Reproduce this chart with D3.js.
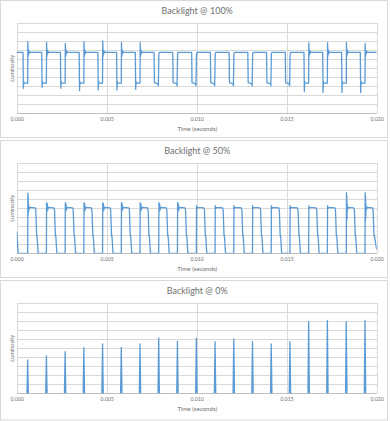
<!DOCTYPE html>
<html>
<head>
<meta charset="utf-8">
<script src="https://cdn.jsdelivr.net/npm/d3@7"></script>
<style>
  html, body { margin: 0; padding: 0; background: #fff; }
  svg { display: block; }
  text { font-family: Lato, "Open Sans", sans-serif; fill: #6f6f6f; }
</style>
</head>
<body>
<svg id="chart" width="390" height="421"></svg>
<script>
// ---------- DATA ----------
const panelTitles = ["Backlight @ 100%", "Backlight @ 50%", "Backlight @ 0%"];
const xTickValues = [0, 0.005, 0.010, 0.015, 0.020];
const xAxisTitle = "Time (seconds)";
const yAxisTitle = "Luminosity";
const yGridValues = [0, 1, 2, 3, 4, 5, 6, 7, 8, 9, 10];

// Backlight @ 100% : [time (s), luminosity]
const series100 = [
  [0, 6.78],
  [0.00035, 6.78], [0.00037, 2.78], [0.00039, 3.55], [0.00041, 3.35], [0.00061, 3.35], [0.00062, 7.96], [0.00064, 6.35], [0.00066, 7.05], [0.00068, 6.6], [0.00071, 6.85], [0.00075, 6.78],
  [0.00139, 6.78], [0.00141, 2.89], [0.00143, 3.55], [0.00145, 3.35], [0.00165, 3.35], [0.00166, 7.89], [0.00168, 6.35], [0.00170, 7.05], [0.00172, 6.6], [0.00175, 6.85], [0.00179, 6.78],
  [0.00243, 6.78], [0.00245, 2.78], [0.00247, 3.55], [0.00249, 3.35], [0.00269, 3.35], [0.00270, 7.78], [0.00272, 6.35], [0.00274, 7.05], [0.00276, 6.6], [0.00279, 6.85], [0.00283, 6.78],
  [0.00347, 6.78], [0.00349, 2.52], [0.00351, 3.55], [0.00353, 3.35], [0.00373, 3.35], [0.00374, 7.96], [0.00376, 6.35], [0.00378, 7.05], [0.00380, 6.6], [0.00383, 6.85], [0.00387, 6.78],
  [0.00451, 6.78], [0.00453, 2.59], [0.00455, 3.55], [0.00457, 3.35], [0.00477, 3.35], [0.00478, 8.04], [0.00480, 6.35], [0.00482, 7.05], [0.00484, 6.6], [0.00487, 6.85], [0.00491, 6.78],
  [0.00555, 6.78], [0.00557, 2.59], [0.00559, 3.55], [0.00561, 3.35], [0.00581, 3.35], [0.00582, 7.89], [0.00584, 6.35], [0.00586, 7.05], [0.00588, 6.6], [0.00591, 6.85], [0.00595, 6.78],
  [0.00659, 6.78], [0.00661, 2.67], [0.00663, 3.55], [0.00665, 3.35], [0.00685, 3.35], [0.00686, 7.85], [0.00688, 6.35], [0.00690, 7.05], [0.00692, 6.6], [0.00695, 6.85], [0.00699, 6.78],
  [0.00763, 6.78], [0.00765, 3.4], [0.00784, 3.3], [0.00787, 3.05], [0.00790, 6.6], [0.00793, 6.78],
  [0.00867, 6.78], [0.00869, 3.4], [0.00888, 3.3], [0.00891, 3.05], [0.00894, 6.6], [0.00897, 6.78],
  [0.00972, 6.78], [0.00974, 3.4], [0.00993, 3.3], [0.00996, 3.05], [0.00999, 6.6], [0.01002, 6.78],
  [0.01076, 6.78], [0.01078, 3.4], [0.01097, 3.3], [0.01100, 3.05], [0.01103, 6.6], [0.01106, 6.78],
  [0.01180, 6.78], [0.01182, 3.4], [0.01201, 3.3], [0.01204, 3.05], [0.01207, 6.6], [0.01210, 6.78],
  [0.01284, 6.78], [0.01286, 3.4], [0.01305, 3.3], [0.01308, 3.05], [0.01311, 6.6], [0.01314, 6.78],
  [0.01388, 6.78], [0.01390, 3.4], [0.01409, 3.3], [0.01412, 3.05], [0.01415, 6.6], [0.01418, 6.78],
  [0.01492, 6.78], [0.01494, 3.4], [0.01513, 3.3], [0.01516, 3.05], [0.01519, 6.6], [0.01522, 6.78],
  [0.01596, 6.78], [0.01598, 2.41], [0.01600, 3.55], [0.01602, 3.35], [0.01622, 3.35], [0.01623, 7.85], [0.01625, 6.35], [0.01627, 7.05], [0.01629, 6.6], [0.01632, 6.85], [0.01636, 6.78],
  [0.01700, 6.78], [0.01702, 2.30], [0.01704, 3.55], [0.01706, 3.35], [0.01726, 3.35], [0.01727, 7.85], [0.01729, 6.35], [0.01731, 7.05], [0.01733, 6.6], [0.01736, 6.85], [0.01740, 6.78],
  [0.01805, 6.78], [0.01807, 2.30], [0.01809, 3.55], [0.01811, 3.35], [0.01831, 3.35], [0.01832, 7.85], [0.01834, 6.35], [0.01836, 7.05], [0.01838, 6.6], [0.01841, 6.85], [0.01845, 6.78],
  [0.01909, 6.78], [0.01911, 2.30], [0.01913, 3.55], [0.01915, 3.35], [0.01935, 3.35], [0.01936, 7.74], [0.01938, 6.35], [0.01940, 7.05], [0.01942, 6.6], [0.01945, 6.85], [0.01949, 6.78],
  [0.02, 6.78]
];

// Backlight @ 50%
const series50 = [
  [0, 2.4], [0.00002, 2.0], [0.00008, 0],
  [0.00061, 0], [0.00062, 6.7], [0.00063, 4.2], [0.00064, 6.3], [0.00065, 4.5], [0.00066, 5.5], [0.00068, 4.8], [0.00071, 5.1], [0.00103, 5.05], [0.00106, 4.8], [0.00111, 1.9], [0.00113, 2.0], [0.00119, 0],
  [0.00165, 0], [0.00166, 5.63], [0.00167, 4.6], [0.00168, 5.23], [0.00169, 4.9], [0.00170, 5.5], [0.00172, 4.8], [0.00175, 5.1], [0.00207, 5.05], [0.00210, 4.8], [0.00215, 1.9], [0.00217, 2.0], [0.00223, 0],
  [0.00269, 0], [0.00270, 5.63], [0.00271, 4.6], [0.00272, 5.23], [0.00273, 4.9], [0.00274, 5.5], [0.00276, 4.8], [0.00279, 5.1], [0.00311, 5.05], [0.00314, 4.8], [0.00319, 1.9], [0.00321, 2.0], [0.00327, 0],
  [0.00373, 0], [0.00374, 5.63], [0.00375, 4.6], [0.00376, 5.23], [0.00377, 4.9], [0.00378, 5.5], [0.00380, 4.8], [0.00383, 5.1], [0.00415, 5.05], [0.00418, 4.8], [0.00423, 1.9], [0.00425, 2.0], [0.00431, 0],
  [0.00477, 0], [0.00478, 5.63], [0.00479, 4.6], [0.00480, 5.23], [0.00481, 4.9], [0.00482, 5.5], [0.00484, 4.8], [0.00487, 5.1], [0.00519, 5.05], [0.00522, 4.8], [0.00527, 1.9], [0.00529, 2.0], [0.00535, 0],
  [0.00581, 0], [0.00582, 5.63], [0.00583, 4.6], [0.00584, 5.23], [0.00585, 4.9], [0.00586, 5.5], [0.00588, 4.8], [0.00591, 5.1], [0.00623, 5.05], [0.00626, 4.8], [0.00631, 1.9], [0.00633, 2.0], [0.00639, 0],
  [0.00685, 0], [0.00686, 5.63], [0.00687, 4.6], [0.00688, 5.23], [0.00689, 4.9], [0.00690, 5.5], [0.00692, 4.8], [0.00695, 5.1], [0.00727, 5.05], [0.00730, 4.8], [0.00735, 1.9], [0.00737, 2.0], [0.00743, 0],
  [0.00789, 0], [0.00790, 5.63], [0.00791, 4.6], [0.00792, 5.23], [0.00793, 4.9], [0.00794, 5.5], [0.00796, 4.8], [0.00799, 5.1], [0.00831, 5.05], [0.00834, 4.8], [0.00839, 1.9], [0.00841, 2.0], [0.00847, 0],
  [0.00893, 0], [0.00894, 5.63], [0.00895, 4.6], [0.00896, 5.23], [0.00897, 4.9], [0.00898, 5.5], [0.00900, 4.8], [0.00903, 5.1], [0.00935, 5.05], [0.00938, 4.8], [0.00943, 1.9], [0.00945, 2.0], [0.00951, 0],
  [0.00998, 0], [0.00999, 5.3], [0.01001, 4.95], [0.01003, 5.1], [0.01040, 5.05], [0.01043, 4.8], [0.01048, 1.9], [0.01050, 2.0], [0.01056, 0],
  [0.01102, 0], [0.01103, 5.3], [0.01105, 4.95], [0.01107, 5.1], [0.01144, 5.05], [0.01147, 4.8], [0.01152, 1.9], [0.01154, 2.0], [0.01160, 0],
  [0.01206, 0], [0.01207, 5.3], [0.01209, 4.95], [0.01211, 5.1], [0.01248, 5.05], [0.01251, 4.8], [0.01256, 1.9], [0.01258, 2.0], [0.01264, 0],
  [0.01310, 0], [0.01311, 5.3], [0.01313, 4.95], [0.01315, 5.1], [0.01352, 5.05], [0.01355, 4.8], [0.01360, 1.9], [0.01362, 2.0], [0.01368, 0],
  [0.01414, 0], [0.01415, 5.3], [0.01417, 4.95], [0.01419, 5.1], [0.01456, 5.05], [0.01459, 4.8], [0.01464, 1.9], [0.01466, 2.0], [0.01472, 0],
  [0.01518, 0], [0.01519, 5.3], [0.01521, 4.95], [0.01523, 5.1], [0.01560, 5.05], [0.01563, 4.8], [0.01568, 1.9], [0.01570, 2.0], [0.01576, 0],
  [0.01622, 0], [0.01623, 5.3], [0.01625, 4.95], [0.01627, 5.1], [0.01664, 5.05], [0.01667, 4.8], [0.01672, 1.9], [0.01674, 2.0], [0.01680, 0],
  [0.01726, 0], [0.01727, 5.3], [0.01729, 4.95], [0.01731, 5.1], [0.01768, 5.05], [0.01771, 4.8], [0.01776, 1.9], [0.01778, 2.0], [0.01784, 0],
  [0.01831, 0], [0.01832, 6.74], [0.01833, 3.5], [0.01834, 6.34], [0.01835, 3.8], [0.01836, 5.5], [0.01838, 4.8], [0.01841, 5.1], [0.01873, 5.05], [0.01876, 4.8], [0.01881, 1.9], [0.01883, 2.0], [0.01889, 0],
  [0.01935, 0], [0.01936, 6.74], [0.01937, 3.5], [0.01938, 6.34], [0.01939, 3.8], [0.01940, 5.5], [0.01942, 4.8], [0.01945, 5.1], [0.01977, 5.05], [0.01980, 4.8], [0.01985, 1.9], [0.01987, 2.0], [0.02, 0.4]
];

// Backlight @ 0% (baseline sits just under the axis)
const series0 = [
  [0, -0.2],
  [0.00057, -0.2], [0.00061, 3.70], [0.00065, -0.2],
  [0.00161, -0.2], [0.00165, 4.15], [0.00169, -0.2],
  [0.00265, -0.2], [0.00269, 4.63], [0.00273, -0.2],
  [0.00369, -0.2], [0.00373, 5.07], [0.00377, -0.2],
  [0.00473, -0.2], [0.00477, 5.48], [0.00481, -0.2],
  [0.00577, -0.2], [0.00581, 5.11], [0.00585, -0.2],
  [0.00681, -0.2], [0.00685, 5.48], [0.00689, -0.2],
  [0.00785, -0.2], [0.00789, 6.15], [0.00793, -0.2],
  [0.00889, -0.2], [0.00893, 5.78], [0.00897, -0.2],
  [0.00994, -0.2], [0.00998, 6.11], [0.01002, -0.2],
  [0.01098, -0.2], [0.01102, 5.74], [0.01106, -0.2],
  [0.01202, -0.2], [0.01206, 6.04], [0.01210, -0.2],
  [0.01306, -0.2], [0.01310, 5.74], [0.01314, -0.2],
  [0.01410, -0.2], [0.01414, 5.48], [0.01418, -0.2],
  [0.01514, -0.2], [0.01518, 5.74], [0.01522, -0.2],
  [0.01618, -0.2], [0.01622, 7.96], [0.01626, -0.2],
  [0.01722, -0.2], [0.01726, 8.07], [0.01730, -0.2],
  [0.01827, -0.2], [0.01831, 7.96], [0.01835, -0.2],
  [0.01931, -0.2], [0.01935, 8.07], [0.01939, -0.2],
  [0.02, -0.2]
];

const allSeries = [series100, series50, series0];

// ---------- LAYOUT ----------
const W = 390;
const panelTops = [0, 140, 280];
const panelHeights = [137, 137, 139.5];
const plotLeft = 16.7, plotRight = 376.7;
const plotTopOff = 23.3, plotBottomOff = 113.3;
const lineColor = "#5B9BD5";
const gridColor = "#d9d9d9";
const textColor = "#6f6f6f";

const svg = d3.select("#chart");
svg.append("rect").attr("width", W).attr("height", 421).attr("fill", "#fff");

const x = d3.scaleLinear().domain([0, 0.02]).range([plotLeft, plotRight]);

panelTitles.forEach((title, i) => {
  const g = svg.append("g").attr("transform", `translate(0,${panelTops[i]})`);
  // panel frame
  g.append("rect")
    .attr("x", 0.5).attr("y", 0.5)
    .attr("width", 387).attr("height", panelHeights[i])
    .attr("fill", "#fff").attr("stroke", gridColor).attr("stroke-width", 1);

  const y = d3.scaleLinear().domain([0, 10]).range([plotBottomOff, plotTopOff]);

  // horizontal gridlines
  const yGrid = g.append("g").attr("transform", `translate(${plotLeft},0)`)
    .call(d3.axisLeft(y).tickValues(yGridValues).tickSize(-(plotRight - plotLeft)).tickFormat(""));
  yGrid.select(".domain").remove();
  yGrid.selectAll("line").attr("stroke", gridColor).attr("stroke-width", 1).attr("shape-rendering", "crispEdges");

  // vertical gridlines + tick labels
  const xAx = g.append("g").attr("transform", `translate(0,${plotBottomOff})`)
    .call(d3.axisBottom(x).tickValues(xTickValues).tickSize(-(plotBottomOff - plotTopOff)).tickPadding(4).tickFormat(d3.format(".3f")));
  xAx.select(".domain").remove();
  xAx.selectAll("line").attr("stroke", gridColor).attr("stroke-width", 1).attr("shape-rendering", "crispEdges");
  xAx.selectAll("text").attr("font-family", "Lato, sans-serif").attr("font-size", 5.2).attr("fill", textColor);

  // bottom axis line (slightly darker)
  g.append("line")
    .attr("x1", plotLeft).attr("x2", plotRight)
    .attr("y1", y(0)).attr("y2", y(0))
    .attr("stroke", "#bfbfbf").attr("stroke-width", 1).attr("shape-rendering", "crispEdges");

  // clip for series
  const clipId = "clip" + i;
  g.append("clipPath").attr("id", clipId).append("rect")
    .attr("x", plotLeft).attr("y", plotTopOff - 2)
    .attr("width", plotRight - plotLeft).attr("height", plotBottomOff - plotTopOff + 2);

  const line = d3.line().x(d => x(d[0])).y(d => y(d[1]));
  g.append("path")
    .datum(allSeries[i])
    .attr("clip-path", `url(#${clipId})`)
    .attr("d", line)
    .attr("fill", "none")
    .attr("stroke", lineColor)
    .attr("stroke-width", 1.3)
    .attr("stroke-linejoin", "round");

  // title
  g.append("text")
    .attr("x", (plotLeft + plotRight) / 2 + 0.5).attr("y", 13.5)
    .attr("text-anchor", "middle")
    .attr("font-size", 9)
    .attr("fill", textColor)
    .text(title);

  // x-axis title
  g.append("text")
    .attr("x", (plotLeft + plotRight) / 2 + 0.5).attr("y", 130.5)
    .attr("text-anchor", "middle")
    .attr("font-size", 6.2)
    .attr("fill", textColor)
    .text(xAxisTitle);

  // y-axis title
  g.append("text")
    .attr("transform", `translate(14,${(plotTopOff + plotBottomOff) / 2}) rotate(-90)`)
    .attr("text-anchor", "middle")
    .attr("font-size", 5.6)
    .attr("fill", textColor)
    .text(yAxisTitle);
});
</script>
</body>
</html>
